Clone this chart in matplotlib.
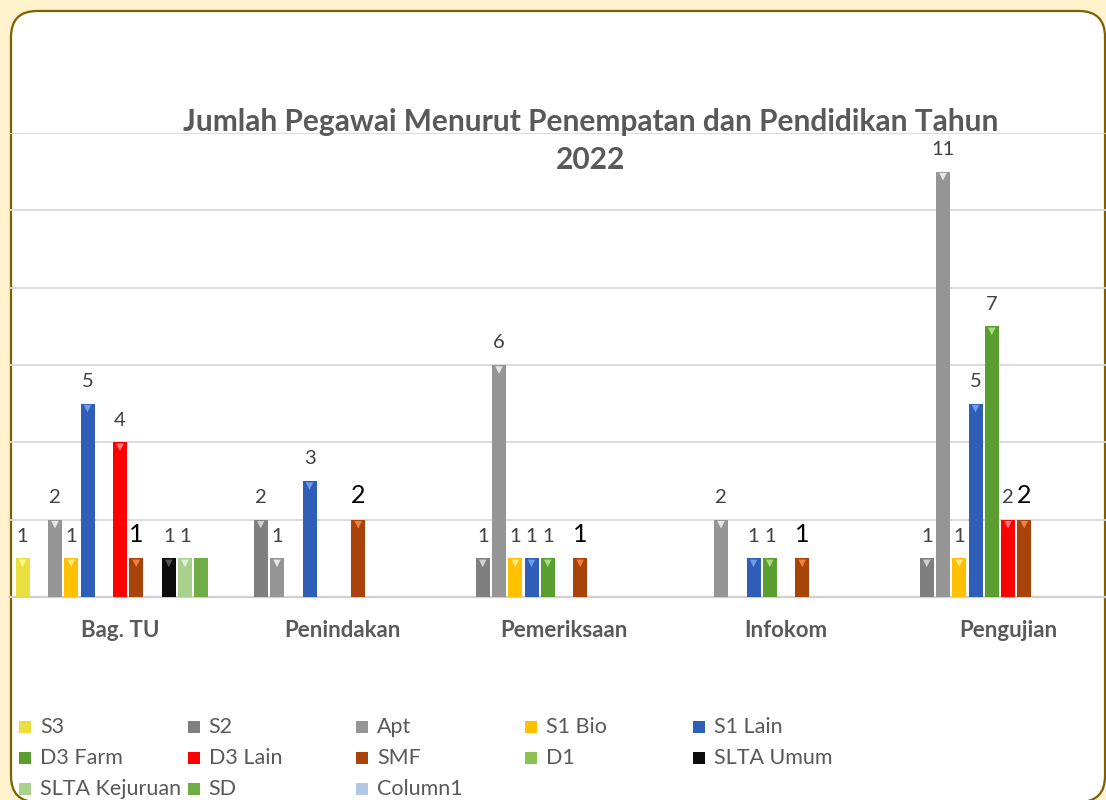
import matplotlib
matplotlib.use("Agg")
import matplotlib.pyplot as plt
from matplotlib.patches import FancyBboxPatch, Rectangle
from matplotlib.transforms import IdentityTransform
import numpy as np

# ---------------- data ----------------
categories = ["Bag. TU", "Penindakan", "Pemeriksaan", "Infokom", "Pengujian"]
series_names = ["S3", "S2", "Apt", "S1 Bio", "S1 Lain", "D3 Farm", "D3 Lain",
                "SMF", "D1", "SLTA Umum", "SLTA Kejuruan", "SD", "Column1"]
s3 = [1, 0, 0, 0, 0]
s2 = [0, 2, 1, 0, 1]
apt = [2, 1, 6, 2, 11]
s1_bio = [1, 0, 1, 0, 1]
s1_lain = [5, 3, 1, 1, 5]
d3_farm = [0, 0, 1, 1, 7]
d3_lain = [4, 0, 0, 0, 2]
smf = [1, 2, 1, 1, 2]
d1 = [0, 0, 0, 0, 0]
slta_umum = [1, 0, 0, 0, 0]
slta_kejuruan = [1, 0, 0, 0, 0]
sd = [1, 0, 0, 0, 0]
column1 = [0, 0, 0, 0, 0]
y_ticks = [0, 2, 4, 6, 8, 10, 12]
title_lines = ["Jumlah Pegawai Menurut Penempatan dan Pendidikan Tahun", "2022"]

series_values = [s3, s2, apt, s1_bio, s1_lain, d3_farm, d3_lain, smf, d1,
                 slta_umum, slta_kejuruan, sd, column1]

# ---------------- styles ----------------
colors = ["#E9E040", "#7F7F7F", "#959595", "#FFC000", "#2E5EB8", "#5A9E32",
          "#FF0000", "#A8430A", "#8CC152", "#0D0D0D", "#A9D18E", "#70AD47", "#B4C7E7"]
accent = ["#FFF78A", "#D0D0D0", "#E6E6E6", "#FFE680", "#6E9BEA", "#A6DD7C",
          "#FF7A7A", "#F08040", "#C8EE98", "#555555", "#E0F3D2", "#70AD47", "#B4C7E7"]
label_style = {name: dict(color="#404040", size=14.5) for name in series_names}
label_style["SMF"] = dict(color="#000000", size=18)
show_label = {name: True for name in series_names}
show_label["SD"] = False

plt.rcParams["font.family"] = ["Lato", "DejaVu Sans"]

W, H = 1106, 800
fig = plt.figure(figsize=(W / 100, H / 100), dpi=100)
fig.patch.set_facecolor("#FFF2CC")


def fx(px):
    return px / W


def fy(py):
    return 1 - py / H


# chart area with rounded border
box = FancyBboxPatch((11, -2), 1094, 791, boxstyle="round,pad=0,rounding_size=26",
                     transform=IdentityTransform(), facecolor="white",
                     edgecolor="#7F6000", linewidth=1.6, zorder=-5)
fig.add_artist(box)

# plot area
ax = fig.add_axes([fx(9), 1 - 597 / H, 1110 / W, 464 / H])
ax.set_facecolor("none")
ax.set_xlim(-0.5, len(categories) - 0.5)
ax.set_ylim(0, 12)
ax.set_yticks(y_ticks)
ax.yaxis.grid(True, color="#D9D9D9", linewidth=1.3)
ax.set_axisbelow(True)
ax.tick_params(axis="y", length=0, labelleft=False)
for s in ["left", "right", "top"]:
    ax.spines[s].set_visible(False)
ax.spines["bottom"].set_color("#D0D0D0")
ax.spines["bottom"].set_linewidth(1.6)

n = len(series_names)
slot = 16.25 / 222
bw = 14 / 222
xc = np.arange(len(categories))
for i, (name, vals) in enumerate(zip(series_names, series_values)):
    xs = xc + (i - (n - 1) / 2) * slot
    vals = np.array(vals, dtype=float)
    ax.bar(xs, vals, width=bw, color=colors[i], edgecolor="none", zorder=3)
    mask = vals > 0
    if name not in ("SD", "Column1"):
        ax.scatter(xs[mask], vals[mask] - 0.13, marker="v", s=30,
                   color=accent[i], edgecolors="none", zorder=4)
    if show_label[name]:
        for x, v in zip(xs[mask], vals[mask]):
            ax.annotate(f"{int(v)}", (x, v), xytext=(0, 12), textcoords="offset points",
                        ha="center", va="baseline", **label_style[name])

ax.set_xticks(xc)
ax.set_xticklabels(categories, fontsize=16, fontweight="bold", color="#595959")
ax.tick_params(axis="x", length=0, pad=16.5)

# title
fig.text(fx(591), fy(122), title_lines[0], ha="center", va="center",
         fontsize=21.5, fontweight="bold", color="#595959")
fig.text(fx(591), fy(160), title_lines[1], ha="center", va="center",
         fontsize=21.5, fontweight="bold", color="#595959")

# legend (row-major, equal columns)
for i, name in enumerate(series_names):
    row, col = divmod(i, 5)
    x0 = 19 + col * 168.6
    yc = 727 + row * 31
    fig.add_artist(Rectangle((fx(x0), fy(yc + 6)), 12 / W, 12 / H,
                             transform=fig.transFigure, facecolor=colors[i],
                             edgecolor="none"))
    fig.text(fx(x0 + 21), fy(yc), name, ha="left", va="center",
             fontsize=15.5, color="#595959")

fig.savefig("out.png", dpi=100, facecolor=fig.get_facecolor())
